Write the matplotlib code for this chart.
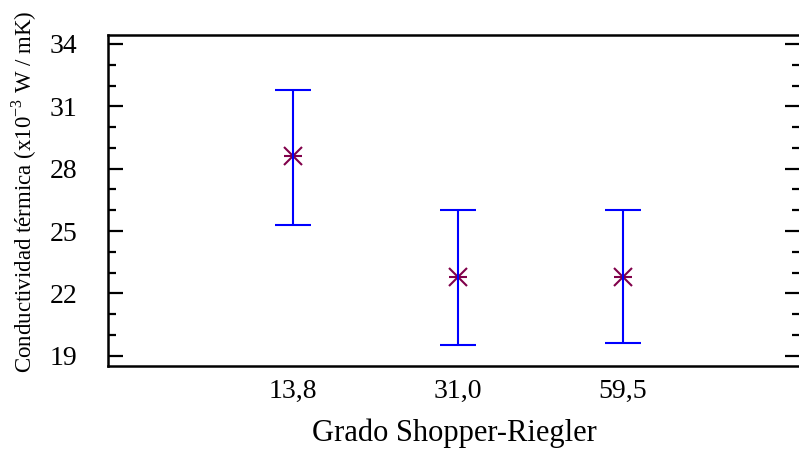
import matplotlib
matplotlib.use("agg")
import matplotlib.pyplot as plt
from matplotlib.ticker import MultipleLocator
import numpy as np

# grado Shopper-Riegler and thermal conductivity (x10^-3 W/mK)
LABELS = ["13,8", "31,0", "59,5"]
MEANS = [28.62, 22.81, 22.81]
LOWER = [25.31, 19.53, 19.62]
UPPER = [31.79, 25.99, 25.99]

plt.rcParams["font.family"] = "Liberation Serif"
plt.rcParams["mathtext.fontset"] = "custom"
plt.rcParams["mathtext.rm"] = "Liberation Serif"

pos = np.arange(1, len(LABELS) + 1)
means = np.array(MEANS)
yerr = np.array([means - np.array(LOWER), np.array(UPPER) - means])

fig = plt.figure(figsize=(7.99, 4.57), dpi=100)
ax = fig.add_axes([0.1352, 0.2002, 0.8660, 0.7232])

# asterisk = cross + horizontal bar, vertical arm hidden under the error bar
ax.plot(pos, means, linestyle="none", marker="x", markersize=13,
		markeredgewidth=1.5, color="#80004a", zorder=2)
ax.plot(pos, means, linestyle="none", marker="_", markersize=13,
		markeredgewidth=1.5, color="#80004a", zorder=2)
ax.errorbar(pos, means, yerr=yerr, fmt="none", ecolor="#0000ff",
			elinewidth=1.5, capsize=13, capthick=1.5, zorder=3)

ax.set_xlim(-0.121, 4.073)
ax.set_ylim(18.53, 34.43)
ax.set_xticks(pos)
ax.set_xticklabels(LABELS, fontsize=20)
ax.tick_params(axis="x", length=0, pad=10)
ax.set_yticks([19, 22, 25, 28, 31, 34])
ax.yaxis.set_minor_locator(MultipleLocator(1))
ax.tick_params(axis="y", which="major", direction="in", length=11, width=1.6,
			   labelsize=20, pad=22, right=True, left=True)
ax.tick_params(axis="y", which="minor", direction="in", length=5.5, width=1.6,
			   right=True, left=True)

for side in ["left", "top", "bottom"]:
	ax.spines[side].set_linewidth(1.8)
ax.spines["right"].set_visible(False)

ax.set_xlabel("Grado Shopper-Riegler", fontsize=22, labelpad=10)
ax.set_ylabel("Conductividad térmica (x10$^{\\mathregular{-3}}$ W / mK)", fontsize=16.5)
ax.yaxis.set_label_coords(-0.1, 0.525)

plt.savefig("out.png", dpi=100)
